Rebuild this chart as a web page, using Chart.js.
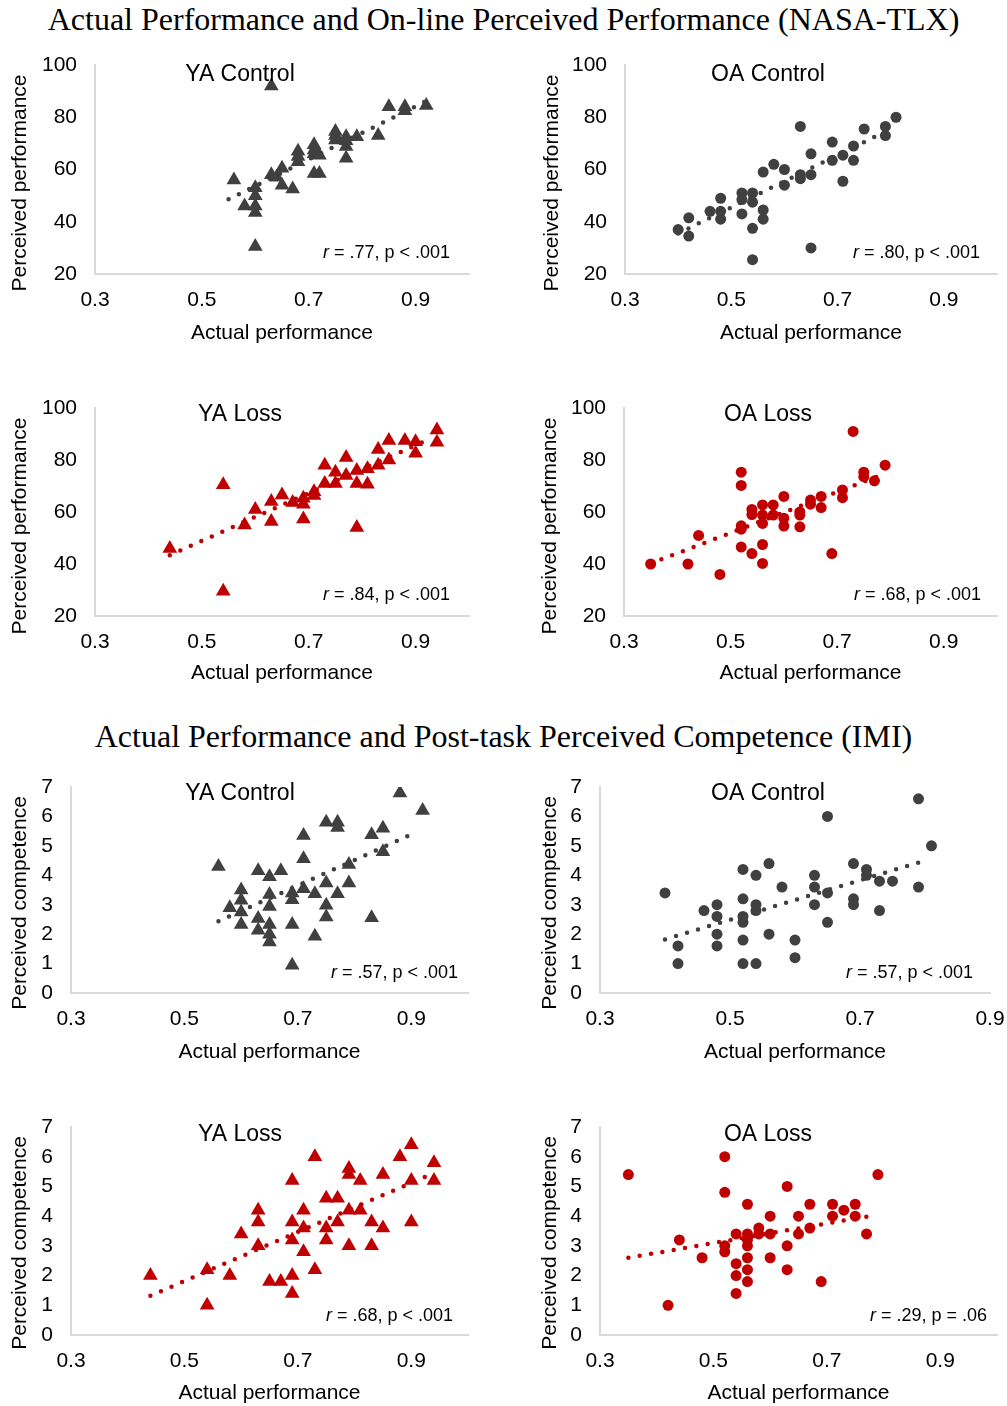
<!DOCTYPE html>
<html>
<head>
<meta charset="utf-8">
<script src="https://cdn.jsdelivr.net/npm/chart.js@4/dist/chart.umd.min.js"></script>
<style>
html, body { margin: 0; padding: 0; overflow: hidden; background: #fff; }
body { width: 1007px; height: 1406px; position: relative; }
.main-title { position: absolute; left: 0; width: 1007px; text-align: center; white-space: nowrap;
  font-family: "Liberation Serif", "Times New Roman", serif; font-size: 32px; line-height: 32px; color: #000; }
canvas { position: absolute; }
</style>
</head>
<body>
<div class="main-title" style="top:3px">Actual Performance and On-line Perceived Performance (NASA-TLX)</div>
<div class="main-title" style="top:720px">Actual Performance and Post-task Perceived Competence (IMI)</div>
<canvas id="c1"></canvas><canvas id="c2"></canvas>
<canvas id="c3"></canvas><canvas id="c4"></canvas>
<canvas id="c5"></canvas><canvas id="c6"></canvas>
<canvas id="c7"></canvas><canvas id="c8"></canvas>
<script>
// axis ticks
const xTicks = [0.3, 0.5, 0.7, 0.9];
const perfTicks = [20, 40, 60, 80, 100];
const compTicks = [0, 1, 2, 3, 4, 5, 6, 7];

// YA Control - perceived performance (NASA-TLX)
const yaCtrlPerfX = [0.63,0.56,0.58,0.60,0.60,0.60,0.60,0.60,0.63,0.65,0.65,0.67,0.68,0.68,0.68,0.71,0.71,0.71,0.71,0.72,0.72,0.75,0.75,0.75,0.77,0.77,0.77,0.77,0.79,0.83,0.85,0.88,0.92,0.64,0.88];
const yaCtrlPerfY = [92,56,46,53,50,46,43.5,30.5,58,60.5,54,52.5,67,65,63,69.5,67.5,66,58.5,58.5,65.5,74.5,73,71.3,72.5,71,68.8,64.3,72.5,73,84,82.5,84.5,57,84];
const yaCtrlPerfFitX = [0.55, 0.92];
const yaCtrlPerfFitY = [48.6, 86.2];

// OA Control - perceived performance
const oaCtrlPerfX = [0.40,0.42,0.42,0.46,0.48,0.48,0.48,0.52,0.52,0.52,0.54,0.54,0.54,0.54,0.56,0.56,0.56,0.58,0.60,0.60,0.63,0.63,0.63,0.65,0.65,0.65,0.69,0.69,0.71,0.71,0.73,0.73,0.75,0.79,0.79,0.81];
const oaCtrlPerfY = [37,41.5,34.5,44,49,44,41,51,48.5,43,51,47.5,37.5,25.5,59,44.5,41,62,60,54,76.5,58,56.5,66,58,30,70.5,63.5,65.5,55.5,69,63.5,75.5,76.5,73,80];
const oaCtrlPerfFitX = [0.40, 0.79];
const oaCtrlPerfFitY = [35.5, 74.5];

// YA Loss - perceived performance
const yaLossPerfX = [0.44,0.54,0.54,0.58,0.60,0.63,0.63,0.65,0.67,0.69,0.69,0.69,0.71,0.71,0.73,0.73,0.75,0.75,0.77,0.77,0.79,0.79,0.79,0.81,0.81,0.83,0.83,0.85,0.85,0.88,0.90,0.90,0.94,0.94];
const yaLossPerfY = [46,70.5,29.5,55,61,64,56.3,66.5,63.7,65.3,63,57.3,67.8,66.3,78,71,75.3,71,81,74,76,71,54,76.6,70.7,84,78,87.5,80,87.5,87,82.6,91.5,86.8];
const yaLossPerfFitX = [0.44, 0.92];
const yaLossPerfFitY = [43.4, 87.5];

// OA Loss - perceived performance
const oaLossPerfX = [0.35,0.42,0.44,0.48,0.52,0.52,0.52,0.52,0.52,0.54,0.54,0.54,0.56,0.56,0.56,0.56,0.56,0.58,0.58,0.60,0.60,0.60,0.63,0.63,0.63,0.65,0.65,0.67,0.67,0.69,0.71,0.71,0.73,0.75,0.75,0.77,0.79];
const oaLossPerfY = [40,40,51,36,75.3,70.2,54.7,53.4,46.5,61,59,44,62.7,58.8,55.6,47.5,40.2,62.7,58.8,66,57.6,54.6,60,58.8,54.3,64.6,63,66,61.7,44,68.5,65.5,91,75.3,73.6,72,78];
const oaLossPerfFitX = [0.35, 0.78];
const oaLossPerfFitY = [40.2, 74];

// YA Control - perceived competence (IMI)
const yaCtrlCompX = [0.56,0.58,0.60,0.60,0.60,0.60,0.63,0.63,0.63,0.65,0.65,0.65,0.65,0.65,0.65,0.67,0.69,0.69,0.69,0.69,0.71,0.71,0.71,0.73,0.73,0.75,0.75,0.75,0.75,0.77,0.77,0.77,0.79,0.79,0.83,0.83,0.85,0.85,0.88,0.92];
const yaCtrlCompY = [4.3,2.9,3.5,3.15,2.75,2.33,4.15,2.53,2.13,3.95,3.35,2.94,2.33,2.0,1.73,4.15,3.4,3.17,2.33,0.94,5.35,4.56,3.54,3.37,1.93,5.8,3.74,2.98,2.58,5.8,5.62,3.37,4.37,3.74,5.38,2.56,5.6,4.8,6.8,6.2];
const yaCtrlCompFitX = [0.56, 0.91];
const yaCtrlCompFitY = [2.44, 5.47];

// OA Control - perceived competence
const oaCtrlCompX = [0.40,0.42,0.42,0.46,0.48,0.48,0.48,0.48,0.52,0.52,0.52,0.52,0.52,0.52,0.54,0.54,0.54,0.54,0.56,0.56,0.58,0.60,0.60,0.63,0.63,0.63,0.65,0.65,0.65,0.69,0.69,0.69,0.71,0.71,0.73,0.73,0.75,0.79,0.79,0.81];
const oaCtrlCompY = [3.4,1.6,1.0,2.8,3.0,2.6,2.0,1.6,4.2,3.2,2.6,2.4,1.8,1.0,4.0,3.0,2.8,1.0,4.4,2.0,3.6,1.8,1.2,4.0,3.6,3.0,6.0,3.4,2.4,4.4,3.2,3.0,4.2,4.0,3.8,2.8,3.8,6.6,3.6,5.0];
const oaCtrlCompFitX = [0.40, 0.80];
const oaCtrlCompFitY = [1.82, 4.5];

// YA Loss - perceived competence
const yaLossCompX = [0.44,0.54,0.54,0.58,0.60,0.63,0.63,0.63,0.65,0.67,0.69,0.69,0.69,0.69,0.69,0.71,0.71,0.71,0.73,0.73,0.75,0.75,0.75,0.77,0.77,0.79,0.79,0.79,0.79,0.81,0.81,0.83,0.83,0.85,0.85,0.88,0.90,0.90,0.90,0.94,0.94];
const yaLossCompY = [2.0,2.2,1.0,2.0,3.4,4.2,3.8,3.0,1.8,1.8,5.2,3.8,3.2,2.0,1.4,4.2,3.6,2.8,6.0,2.2,4.6,3.6,3.2,4.6,3.8,5.6,5.4,4.2,3.0,5.2,4.2,3.8,3.0,5.4,3.6,6.0,6.4,5.2,3.8,5.8,5.2];
const yaLossCompFitX = [0.44, 0.935];
const yaLossCompFitY = [1.32, 5.41];

// OA Loss - perceived competence
const oaLossCompX = [0.35,0.42,0.44,0.48,0.52,0.52,0.52,0.52,0.54,0.54,0.54,0.54,0.56,0.56,0.56,0.56,0.56,0.56,0.56,0.58,0.58,0.60,0.60,0.60,0.63,0.63,0.63,0.65,0.65,0.67,0.67,0.69,0.71,0.71,0.73,0.75,0.75,0.77,0.79];
const oaLossCompY = [5.4,1.0,3.2,2.6,6.0,4.8,3.0,2.8,3.4,2.4,2.0,1.4,4.4,3.4,3.2,3.0,2.6,2.2,1.8,3.6,3.4,4.0,3.4,2.6,5.0,3.0,2.2,4.0,3.4,4.4,3.6,1.8,4.4,4.0,4.2,4.4,4.0,3.4,5.4];
const oaLossCompFitX = [0.35, 0.775];
const oaLossCompFitY = [2.6, 4.0];

const GREY = '#404040';
const RED = '#c00000';
const SANS = '"Liberation Sans", Arial, sans-serif';

Chart.defaults.font.family = SANS;
Chart.defaults.color = '#000';

// draws the panel title, the r/p note and the rotated y title
const panelText = {
  id: 'panelText',
  afterDraw(chart, args, o) {
    const ctx = chart.ctx;
    ctx.save();
    ctx.fillStyle = '#000';
    ctx.textBaseline = 'alphabetic';
    ctx.font = '23px ' + SANS;
    ctx.textAlign = 'center';
    ctx.fillText(o.title, o.titleX, o.titleY);

    ctx.font = '18px ' + SANS;
    ctx.textAlign = 'left';
    const w = ctx.measureText(o.stat).width;
    ctx.fillText(o.stat, o.statX - w, o.statY);
    ctx.font = 'italic 18px ' + SANS;
    const wr = ctx.measureText('r').width;
    ctx.fillText('r', o.statX - w - wr, o.statY);

    ctx.font = '21px ' + SANS;
    ctx.translate(o.yTitleX, o.yTitleY);
    ctx.rotate(-Math.PI / 2);
    ctx.textAlign = 'center';
    ctx.textBaseline = 'middle';
    ctx.fillText(o.yTitle, 0, 0);
    ctx.restore();
  }
};

function pts(xs, ys) {
  return xs.map((x, i) => ({ x: x, y: ys[i] }));
}

function makePanel(p) {
  const cv = document.getElementById(p.id);
  const [bx, by, bw, bh] = p.box;
  const [l, t, r, b] = p.area;
  cv.width = bw; cv.height = bh;
  cv.style.left = bx + 'px';
  cv.style.top = by + 'px';
  const tickFont = { size: 21 };
  const xH = by + bh - b;

  new Chart(cv, {
    type: 'scatter',
    data: {
      datasets: [
        {
          data: pts(p.xs, p.ys),
          pointStyle: p.marker,
          pointRadius: p.marker === 'triangle' ? 8.5 : 5.5,
          pointBackgroundColor: p.color,
          pointBorderWidth: 0,
          order: 1
        },
        {
          data: pts(p.fitX, p.fitY),
          showLine: true,
          borderColor: p.color,
          borderWidth: 4.5,
          borderDash: [0, 11.5],
          borderCapStyle: 'round',
          pointRadius: 0,
          order: 0
        }
      ]
    },
    options: {
      responsive: false,
      animation: false,
      devicePixelRatio: 1,
      events: [],
      layout: { padding: { left: 0, top: t - by, right: bx + bw - r, bottom: 0 } },
      plugins: {
        legend: { display: false },
        tooltip: { enabled: false },
        panelText: {
          title: p.title, titleX: p.titleX - bx, titleY: p.titleY - by,
          stat: p.stat, statX: p.statX - bx, statY: p.statY - by,
          yTitle: p.yTitle, yTitleX: p.yTitleX - bx, yTitleY: p.yTitleY - by
        }
      },
      scales: {
        x: {
          type: 'linear',
          min: 0.3,
          max: p.xMax,
          afterBuildTicks: s => { s.ticks = xTicks.map(v => ({ value: v })); },
          afterFit: s => { s.height = xH; },
          grid: { display: false, drawTicks: false },
          border: { display: true, color: '#d9d9d9', width: 2 },
          ticks: { padding: 14, font: tickFont, color: '#000', maxRotation: 0, autoSkip: false,
                   callback: v => v.toFixed(1) },
          title: { display: true, text: 'Actual performance', color: '#000', font: { size: 21 },
                   padding: { top: 0, bottom: (by + bh) - p.xTitleY - 12.6 } }
        },
        y: {
          type: 'linear',
          min: p.yTicks[0],
          max: p.yTicks[p.yTicks.length - 1],
          afterBuildTicks: s => { s.ticks = p.yTicks.map(v => ({ value: v })); },
          afterFit: s => { s.width = l - bx; },
          grid: { display: false, drawTicks: false },
          border: { display: true, color: '#d9d9d9', width: 2 },
          ticks: { padding: 18, font: tickFont, color: '#000' }
        }
      }
    },
    plugins: [panelText]
  });
}

const row1 = { by: 25, bh: 345, t: 65, b: 274, xTitleY: 333, titleY: 81, statY: 258, yTitleY: 183 };
const row2 = { by: 370, bh: 340, t: 408, b: 616, xTitleY: 673, titleY: 421, statY: 600, yTitleY: 526 };
const row3 = { by: 750, bh: 340, t: 787, b: 993, xTitleY: 1052, titleY: 800, statY: 978, yTitleY: 903 };
const row4 = { by: 1090, bh: 340, t: 1127, b: 1335, xTitleY: 1393, titleY: 1141, statY: 1321, yTitleY: 1243 };

function spec(id, row, bx, bw, l, r, xMax, yTitleX, titleX, statX, extra) {
  return Object.assign({
    id: id, box: [bx, row.by, bw, row.bh], area: [l, row.t, r, row.b], xMax: xMax,
    xTitleY: row.xTitleY, titleX: titleX, titleY: row.titleY, statX: statX, statY: row.statY,
    yTitleX: yTitleX, yTitleY: row.yTitleY
  }, extra);
}

const perf = { yTicks: perfTicks, yTitle: 'Perceived performance' };
const comp = { yTicks: compTicks, yTitle: 'Perceived competence' };

[
  spec('c1', row1, 0, 505, 95, 469, 1.0, 20, 240, 450, Object.assign({
    title: 'YA Control', stat: ' = .77, p < .001', marker: 'triangle', color: GREY,
    xs: yaCtrlPerfX, ys: yaCtrlPerfY, fitX: yaCtrlPerfFitX, fitY: yaCtrlPerfFitY }, perf)),
  spec('c2', row1, 520, 515, 625, 997, 1.0, 552, 768, 980, Object.assign({
    title: 'OA Control', stat: ' = .80, p < .001', marker: 'circle', color: GREY,
    xs: oaCtrlPerfX, ys: oaCtrlPerfY, fitX: oaCtrlPerfFitX, fitY: oaCtrlPerfFitY }, perf)),
  spec('c3', row2, 0, 505, 95, 469, 1.0, 20, 240, 450, Object.assign({
    title: 'YA Loss', stat: ' = .84, p < .001', marker: 'triangle', color: RED,
    xs: yaLossPerfX, ys: yaLossPerfY, fitX: yaLossPerfFitX, fitY: yaLossPerfFitY }, perf)),
  spec('c4', row2, 520, 515, 624, 997, 1.0, 550, 768, 981, Object.assign({
    title: 'OA Loss', stat: ' = .68, p < .001', marker: 'circle', color: RED,
    xs: oaLossPerfX, ys: oaLossPerfY, fitX: oaLossPerfFitX, fitY: oaLossPerfFitY }, perf)),
  spec('c5', row3, 0, 505, 71, 468, 1.0, 20, 240, 458, Object.assign({
    title: 'YA Control', stat: ' = .57, p < .001', marker: 'triangle', color: GREY,
    xs: yaCtrlCompX, ys: yaCtrlCompY, fitX: yaCtrlCompFitX, fitY: yaCtrlCompFitY }, comp)),
  spec('c6', row3, 520, 515, 600, 990, 0.9, 550, 768, 973, Object.assign({
    title: 'OA Control', stat: ' = .57, p < .001', marker: 'circle', color: GREY,
    xs: oaCtrlCompX, ys: oaCtrlCompY, fitX: oaCtrlCompFitX, fitY: oaCtrlCompFitY }, comp)),
  spec('c7', row4, 0, 505, 71, 468, 1.0, 20, 240, 453, Object.assign({
    title: 'YA Loss', stat: ' = .68, p < .001', marker: 'triangle', color: RED,
    xs: yaLossCompX, ys: yaLossCompY, fitX: yaLossCompFitX, fitY: yaLossCompFitY }, comp)),
  spec('c8', row4, 520, 515, 600, 997, 1.0, 550, 768, 987, Object.assign({
    title: 'OA Loss', stat: ' = .29, p = .06', marker: 'circle', color: RED,
    xs: oaLossCompX, ys: oaLossCompY, fitX: oaLossCompFitX, fitY: oaLossCompFitY }, comp))
].forEach(makePanel);
</script>
</body>
</html>
